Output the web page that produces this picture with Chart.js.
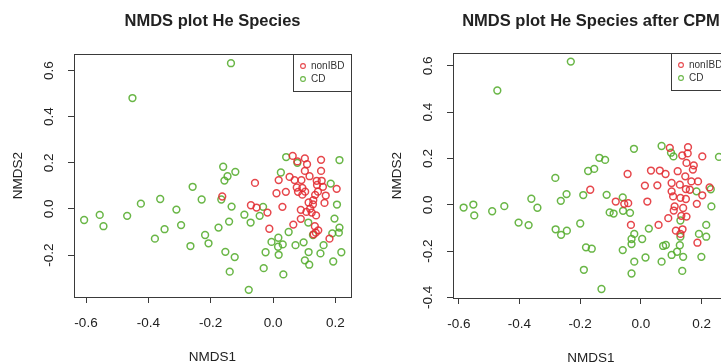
<!DOCTYPE html>
<html>
<head>
<meta charset="utf-8">
<script src="https://cdn.jsdelivr.net/npm/chart.js@4/dist/chart.umd.min.js"></script>
<style>
  html, body { margin: 0; padding: 0; background: #fff; width: 721px; height: 364px; overflow: hidden; position: relative; }
  canvas { position: absolute; top: 0; }
  #he { left: 0; }
  #cpm { left: 360px; }
</style>
</head>
<body>
<canvas id="he" width="360" height="364"></canvas>
<canvas id="cpm" width="380" height="364"></canvas>
<script>
// NMDS ordination scores (NMDS1, NMDS2) per sample
const heNonIBD = [[-0.163,0.054],[-0.058,0.113],[-0.071,0.016],[-0.053,0.006],[-0.018,-0.016],[-0.012,-0.086],[0.011,0.068],[0.018,0.125],[0.030,0.009],[0.041,0.074],[0.053,0.139],[0.063,0.230],[0.065,-0.068],[0.069,0.125],[0.076,0.093],[0.080,0.074],[0.089,-0.004],[0.089,-0.043],[0.091,0.125],[0.094,0.091],[0.094,0.062],[0.102,0.219],[0.102,0.165],[0.103,0.075],[0.107,-0.013],[0.109,0.194],[0.114,0.028],[0.117,0.142],[0.119,0.001],[0.124,-0.016],[0.129,0.038],[0.134,-0.075],[0.135,0.061],[0.137,-0.103],[0.138,-0.028],[0.140,0.122],[0.141,0.104],[0.144,0.075],[0.145,-0.093],[0.154,0.213],[0.154,0.165],[0.156,0.122],[0.160,0.096],[0.165,0.026],[0.169,0.058],[0.181,-0.129],[0.204,0.087],[0.130,-0.110],[0.078,0.206],[0.128,0.020]];

const heCD = [[-0.135,0.632],[-0.451,0.481],[-0.606,-0.048],[-0.556,-0.026],[-0.544,-0.075],[-0.468,-0.030],[-0.424,0.023],[-0.362,0.043],[-0.310,-0.003],[-0.348,-0.088],[-0.379,-0.129],[-0.295,-0.070],[-0.258,0.096],[-0.229,0.041],[-0.265,-0.161],[-0.218,-0.113],[-0.207,-0.149],[-0.175,-0.081],[-0.166,0.041],[-0.160,0.183],[-0.146,0.142],[-0.156,0.123],[-0.121,0.161],[-0.133,0.010],[-0.141,-0.055],[-0.153,-0.186],[-0.123,-0.209],[-0.139,-0.272],[-0.078,-0.351],[-0.092,-0.025],[-0.072,-0.059],[-0.043,-0.030],[-0.032,0.009],[-0.030,-0.257],[-0.024,-0.188],[-0.005,-0.143],[0.017,-0.125],[0.016,-0.164],[0.018,-0.199],[0.031,-0.154],[0.033,-0.284],[0.050,-0.100],[0.025,0.158],[0.042,0.225],[0.072,-0.157],[0.078,0.200],[0.098,-0.145],[0.113,-0.059],[0.114,-0.187],[0.102,-0.223],[0.116,-0.242],[0.128,-0.113],[0.152,-0.193],[0.162,-0.157],[0.185,0.110],[0.213,0.212],[0.205,0.019],[0.197,-0.042],[0.213,-0.081],[0.211,-0.103],[0.190,-0.106],[0.219,-0.188],[0.193,-0.228]];

const cpmNonIBD = [[-0.167,0.065],[-0.083,0.014],[-0.055,0.004],[-0.042,0.007],[-0.044,0.133],[-0.033,-0.087],[0.013,0.083],[0.021,0.014],[0.033,0.148],[0.058,-0.087],[0.054,0.084],[0.062,0.148],[0.081,0.133],[0.090,-0.058],[0.095,0.246],[0.101,0.094],[0.101,0.058],[0.106,0.036],[0.121,0.145],[0.128,0.087],[0.130,0.030],[0.136,0.213],[0.139,-0.014],[0.148,0.068],[0.148,0.025],[0.146,0.123],[0.150,-0.051],[0.155,0.249],[0.154,0.222],[0.150,0.181],[0.166,0.101],[0.161,0.065],[0.171,0.152],[0.174,0.170],[0.188,0.101],[0.202,0.209],[0.202,0.041],[0.184,0.004],[0.186,-0.164],[0.226,0.075],[0.115,-0.112],[0.137,-0.106],[0.130,-0.126],[0.108,-0.025],[0.133,-0.048],[0.111,-0.007]];

const cpmCD = [[-0.231,0.619],[-0.473,0.494],[-0.584,-0.012],[-0.552,0.001],[-0.549,-0.046],[-0.490,-0.028],[-0.450,-0.006],[-0.403,-0.077],[-0.370,-0.088],[-0.361,0.026],[-0.341,-0.013],[-0.282,0.116],[-0.281,-0.106],[-0.263,-0.130],[-0.264,0.017],[-0.244,-0.112],[-0.245,0.046],[-0.200,-0.081],[-0.190,0.042],[-0.181,-0.184],[-0.162,-0.190],[-0.174,0.146],[-0.154,0.155],[-0.137,0.203],[-0.118,0.194],[-0.113,0.043],[-0.188,-0.281],[-0.130,-0.364],[-0.103,-0.033],[-0.090,-0.038],[-0.060,0.032],[-0.059,-0.026],[-0.036,-0.035],[-0.023,0.242],[-0.022,-0.126],[-0.031,-0.148],[-0.031,-0.170],[-0.060,-0.196],[-0.031,-0.297],[-0.022,-0.246],[0.004,-0.148],[0.015,-0.228],[0.026,-0.103],[0.073,-0.178],[0.082,-0.174],[0.068,-0.246],[0.068,0.254],[0.101,-0.217],[0.119,-0.203],[0.128,-0.175],[0.139,-0.225],[0.136,-0.286],[0.130,-0.068],[0.130,-0.138],[0.099,0.225],[0.107,0.209],[0.191,-0.126],[0.215,-0.138],[0.215,-0.087],[0.199,-0.225],[0.230,0.067],[0.232,-0.007],[0.257,0.207],[0.183,0.058]];

const groupNames = ['nonIBD', 'CD'];
const xTicks = [-0.6, -0.4, -0.2, 0.0, 0.2];
const heYTicks = [-0.2, 0.0, 0.2, 0.4, 0.6];
const cpmYTicks = [-0.4, -0.2, 0.0, 0.2, 0.4, 0.6];

const FONT = '"Liberation Sans", Arial, Helvetica, sans-serif';
const INK = '#222';
const AXIS = '#3a3a3a';
const RED = 'rgba(226,44,50,0.88)';
const GREEN = 'rgba(84,172,44,0.88)';

const fmt = v => v.toFixed(1);
const toXY = arr => arr.map(p => ({ x: p[0], y: p[1] }));

// Box, tick labels, titles and legend in base-graphics style
const basePlot = {
  id: 'basePlot',
  afterDraw(chart, args, o) {
    const { ctx, chartArea: a, scales: { x, y } } = chart;
    const cx = (a.left + a.right) / 2;
    const cy = (a.top + a.bottom) / 2;
    ctx.save();
    ctx.strokeStyle = AXIS;
    ctx.lineWidth = 1;
    ctx.strokeRect(Math.round(a.left) + 0.5, Math.round(a.top) + 0.5,
                   Math.round(a.right - a.left), Math.round(a.bottom - a.top));

    ctx.fillStyle = INK;
    ctx.font = '13.5px ' + FONT;
    ctx.textAlign = 'center';
    ctx.textBaseline = 'middle';
    x.ticks.forEach(t => ctx.fillText(fmt(t.value), x.getPixelForValue(t.value), a.bottom + 26));
    y.ticks.forEach(t => {
      ctx.save();
      ctx.translate(a.left - 25, y.getPixelForValue(t.value));
      ctx.rotate(-Math.PI / 2);
      ctx.fillText(fmt(t.value), 0, 0);
      ctx.restore();
    });

    ctx.fillText('NMDS1', cx, a.bottom + 60);
    ctx.save();
    ctx.translate(a.left - 56, cy);
    ctx.rotate(-Math.PI / 2);
    ctx.fillText('NMDS2', 0, 0);
    ctx.restore();

    ctx.font = 'bold 16.5px ' + FONT;
    ctx.fillText(o.title, cx, 21);

    // legend in the top-right corner of the plot box
    const lw = 58, lh = 37;
    const lx = a.right - lw, ly = a.top;
    ctx.fillStyle = '#fff';
    ctx.fillRect(lx, ly, lw, lh);
    ctx.strokeStyle = AXIS;
    ctx.strokeRect(Math.round(lx) + 0.5, Math.round(ly) + 0.5, lw, lh);
    ctx.font = '10px ' + FONT;
    ctx.textAlign = 'left';
    chart.data.datasets.forEach((ds, i) => {
      const ry = ly + 12 + i * 13;
      ctx.beginPath();
      ctx.strokeStyle = ds.borderColor;
      ctx.lineWidth = 1.1;
      ctx.arc(lx + 10, ry, 2.4, 0, Math.PI * 2);
      ctx.stroke();
      ctx.fillStyle = '#333';
      ctx.fillText(ds.label, lx + 18, ry + 0.5);
    });
    ctx.restore();
  }
};

function panel(id, cfg) {
  const canvas = document.getElementById(id);
  const grid = { display: true, drawOnChartArea: false, drawTicks: true, tickLength: 6, color: AXIS, lineWidth: 1 };
  new Chart(canvas.getContext('2d'), {
    type: 'scatter',
    data: {
      datasets: [
        { label: groupNames[0], data: toXY(cfg.nonIBD), borderColor: RED, backgroundColor: 'rgba(0,0,0,0)',
          pointRadius: 3.4, pointBorderWidth: 1.5, pointHoverRadius: 3.4, order: 1 },
        { label: groupNames[1], data: toXY(cfg.cd), borderColor: GREEN, backgroundColor: 'rgba(0,0,0,0)',
          pointRadius: 3.4, pointBorderWidth: 1.5, pointHoverRadius: 3.4, order: 2 }
      ]
    },
    options: {
      responsive: false,
      animation: false,
      events: [],
      layout: { padding: { left: 0, right: cfg.padRight, top: cfg.top, bottom: 0 } },
      plugins: {
        legend: { display: false },
        tooltip: { enabled: false },
        title: { display: false },
        basePlot: { title: cfg.title }
      },
      scales: {
        x: {
          type: 'linear', min: cfg.xMin, max: cfg.xMax,
          afterBuildTicks: s => { s.ticks = xTicks.map(v => ({ value: v })); },
          afterFit: s => { s.height = 364 - cfg.bottom; },
          grid: grid, border: { display: false },
          ticks: { display: false }
        },
        y: {
          type: 'linear', min: cfg.yMin, max: cfg.yMax,
          afterBuildTicks: s => { s.ticks = cfg.yTicks.map(v => ({ value: v })); },
          afterFit: s => { s.width = cfg.left; },
          grid: grid, border: { display: false },
          ticks: { display: false }
        }
      }
    },
    plugins: [basePlot]
  });
}

panel('he', {
  title: 'NMDS plot He Species',
  nonIBD: heNonIBD, cd: heCD, yTicks: heYTicks,
  xMin: -0.6385, xMax: 0.250, yMin: -0.382, yMax: 0.672,
  left: 74, padRight: 9, top: 54, bottom: 297
});

panel('cpm', {
  title: 'NMDS plot He Species after CPM',
  nonIBD: cpmNonIBD, cd: cpmCD, yTicks: cpmYTicks,
  xMin: -0.619, xMax: 0.290, yMin: -0.403, yMax: 0.656,
  left: 93, padRight: 11, top: 53, bottom: 298
});
</script>
</body>
</html>
